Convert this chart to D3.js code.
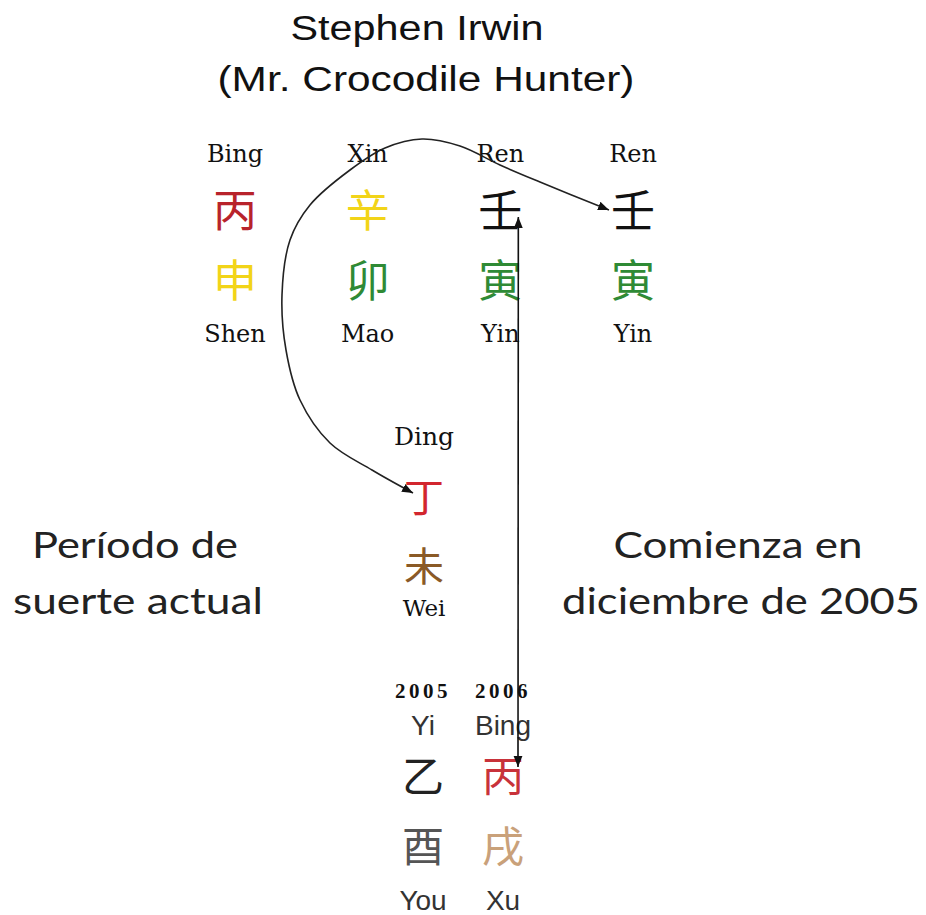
<!DOCTYPE html>
<html><head><meta charset="utf-8">
<script src="https://cdn.jsdelivr.net/npm/d3@7/dist/d3.min.js"></script>
<style>body{margin:0;background:#fff}svg{display:block}</style>
</head><body>
<script>
// ---- data ----
const titleLines = ["Stephen Irwin", "(Mr. Crocodile Hunter)"];
const natalPillars = ["hour", "day", "month", "year"];
const natalStemPinyin = ["Bing", "Xin", "Ren", "Ren"];
const natalStems = ["丙", "辛", "壬", "壬"];
const natalStemColors = ["#b8232b", "#f2d418", "#111111", "#111111"];
const natalBranches = ["申", "卯", "寅", "寅"];
const natalBranchColors = ["#f2d418", "#2f8a35", "#2f8a35", "#2f8a35"];
const natalBranchPinyin = ["Shen", "Mao", "Yin", "Yin"];

const luckStemPinyin = ["Ding"];
const luckStems = ["丁"];
const luckStemColors = ["#d2262e"];
const luckBranches = ["未"];
const luckBranchColors = ["#8a5a26"];
const luckBranchPinyin = ["Wei"];

const years = ["2005", "2006"];
const yearStemPinyin = ["Yi", "Bing"];
const yearStems = ["乙", "丙"];
const yearStemColors = ["#222222", "#c8323a"];
const yearBranches = ["酉", "戌"];
const yearBranchColors = ["#555555", "#c9a17a"];
const yearBranchPinyin = ["You", "Xu"];

const leftNote = ["Período de", "suerte actual"];
const rightNote = ["Comienza en", "diciembre de 2005"];

// ---- drawing ----
const W = 926, H = 915;
const svg = d3.select("body").append("svg").attr("width", W).attr("height", H);

const defs = svg.append("defs");
["start","end"].forEach(k=>{
  defs.append("marker").attr("id","arr-"+k)
    .attr("viewBox","0 0 10 10").attr("refX", k==="end"?10:0).attr("refY",5)
    .attr("markerWidth",11).attr("markerHeight",11).attr("markerUnits","userSpaceOnUse")
    .attr("orient","auto")
    .append("path").attr("d", k==="end" ? "M0,1 L10,5 L0,9 Z" : "M10,1 L0,5 L10,9 Z").attr("fill","#111");
});

const sans = "'Liberation Sans', Arial, sans-serif";
const serif = "'DejaVu Serif', 'Liberation Serif', serif";
const cjk = "'Noto Sans CJK SC', sans-serif";
const calibri = "Lato, 'Open Sans', sans-serif";

// title
const titleX = d3.scaleOrdinal().domain(titleLines).range([417, 426]);
const titleLen = d3.scaleOrdinal().domain(titleLines).range([253, 417]);
svg.append("g").selectAll("text").data(titleLines).join("text")
  .attr("x", d=>titleX(d)).attr("y", (d,i)=> 40 + i*51)
  .attr("text-anchor","middle").attr("font-family", sans).attr("font-size", 35)
  .attr("textLength", d=>titleLen(d)).attr("lengthAdjust","spacingAndGlyphs")
  .attr("fill","#111").text(d=>d);

const rowKeys = ["py1","stem","branch","py2"];

function drawPillars(g, x, keys, rowY, py1, stems, stemCol, branches, brCol, py2, opt){
  const o = Object.assign({pyFont: serif, pySize: 24, charSize: 44, py2Size: 24, py1Font: serif}, opt||{});
  g.append("g").selectAll("text").data(keys).join("text")
    .attr("x", d=>x(d)).attr("y", rowY("py1")).attr("text-anchor","middle")
    .attr("font-family", o.py1Font).attr("font-size", o.pySize)
    .attr("fill", o.py1Color||"#111").text((d,i)=>py1[i]);
  g.append("g").selectAll("text").data(keys).join("text")
    .attr("x", d=>x(d)).attr("y", rowY("stem")).attr("text-anchor","middle")
    .attr("font-family", cjk).attr("font-size", o.charSize)
    .attr("fill", (d,i)=>stemCol[i]).text((d,i)=>stems[i]);
  g.append("g").selectAll("text").data(keys).join("text")
    .attr("x", d=>x(d)).attr("y", rowY("branch")).attr("text-anchor","middle")
    .attr("font-family", cjk).attr("font-size", o.charSize)
    .attr("fill", (d,i)=>brCol[i]).text((d,i)=>branches[i]);
  g.append("g").selectAll("text").data(keys).join("text")
    .attr("x", d=>x(d)).attr("y", rowY("py2")).attr("text-anchor","middle")
    .attr("font-family", o.pyFont).attr("font-size", o.py2Size)
    .attr("fill", o.py2Color||"#111").text((d,i)=>py2[i]);
}

// natal chart
const xNatal = d3.scalePoint().domain(natalPillars).range([235, 633]);
const natalRows = d3.scaleOrdinal().domain(rowKeys).range([162, 227, 297, 342]);
drawPillars(svg.append("g"), xNatal, natalPillars, natalRows,
  natalStemPinyin, natalStems, natalStemColors, natalBranches, natalBranchColors, natalBranchPinyin);

// luck pillar
const xLuck = d3.scalePoint().domain(["luck"]).range([424, 424]);
const luckRows = d3.scaleOrdinal().domain(rowKeys).range([445, 512, 581, 616]);
drawPillars(svg.append("g"), xLuck, ["luck"], luckRows,
  luckStemPinyin, luckStems, luckStemColors, luckBranches, luckBranchColors, luckBranchPinyin, {pySize: 25, py2Size: 23, charSize: 40});

// year pillars
const xYear = d3.scalePoint().domain(years).range([423, 503]);
svg.append("g").selectAll("text").data(years).join("text")
  .attr("x", d=>xYear(d)).attr("y", 698).attr("text-anchor","middle")
  .attr("font-family", "'Liberation Serif', serif").attr("font-weight","bold").attr("font-size", 21)
  .attr("letter-spacing", 3.5)
  .attr("fill","#111").text(d=>d);
const yearRows = d3.scaleOrdinal().domain(rowKeys).range([735, 792, 862, 910]);
drawPillars(svg.append("g"), xYear, years, yearRows,
  yearStemPinyin, yearStems, yearStemColors, yearBranches, yearBranchColors, yearBranchPinyin,
  {py1Font: sans, pyFont: sans, pySize: 28, py2Size: 28, py1Color:"#333", py2Color:"#333", charSize: 42});

// side notes
const noteLen = d3.scaleOrdinal().domain(leftNote.concat(rightNote)).range([206, 250, 249, 358]);
svg.append("g").selectAll("text").data(leftNote).join("text")
  .attr("x", (d,i)=>[135,138][i]).attr("y", (d,i)=>558 + i*56).attr("text-anchor","middle")
  .attr("font-family", calibri).attr("font-size", 36).attr("fill","#222")
  .attr("textLength", d=>noteLen(d)).attr("lengthAdjust","spacingAndGlyphs").text(d=>d);
svg.append("g").selectAll("text").data(rightNote).join("text")
  .attr("x", (d,i)=>[738,741][i]).attr("y", (d,i)=>558 + i*56).attr("text-anchor","middle")
  .attr("font-family", calibri).attr("font-size", 36).attr("fill","#222")
  .attr("textLength", d=>noteLen(d)).attr("lengthAdjust","spacingAndGlyphs").text(d=>d);

// arrows
const arcPts = [[413,493],[372,470],[330,443],[300,400],[286,350],[282,295],[290,240],[310,205],[350,170],[385,148],[422,139],[460,146],[500,165],[540,182],[609,210]];
svg.append("path").attr("d", d3.line().curve(d3.curveCatmullRom)(arcPts))
  .attr("fill","none").attr("stroke","#222").attr("stroke-width",1.6)
  .attr("marker-start","url(#arr-start)").attr("marker-end","url(#arr-end)");

svg.append("line").attr("x1", xNatal("month")+18).attr("y1", 217).attr("x2", xYear("2006")+15).attr("y2", 767)
  .attr("stroke","#111").attr("stroke-width",1.6)
  .attr("marker-start","url(#arr-start)").attr("marker-end","url(#arr-end)");
</script>
</body></html>
